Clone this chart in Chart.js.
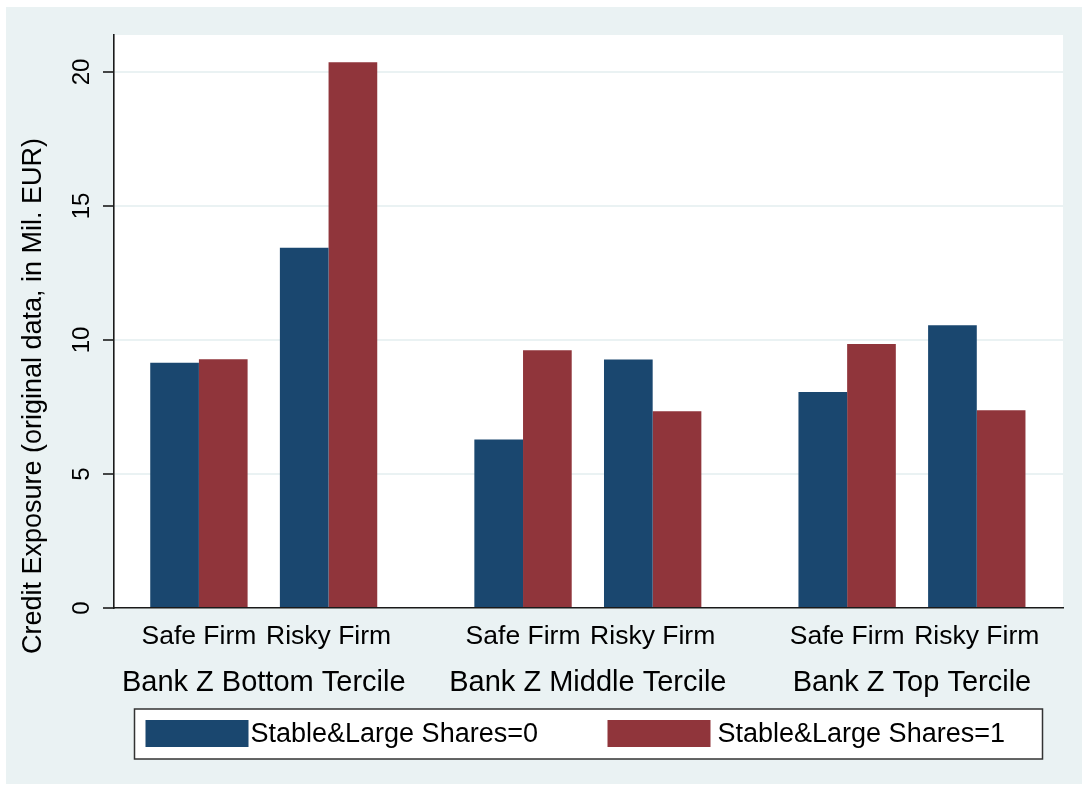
<!DOCTYPE html>
<html>
<head>
<meta charset="utf-8">
<script src="https://cdn.jsdelivr.net/npm/chart.js@4.4.1/dist/chart.umd.min.js"></script>
<style>
  html, body { margin: 0; padding: 0; background: #fff; }
  #wrap { width: 1082px; height: 789px; }
</style>
</head>
<body>
<div id="wrap"><canvas id="grafico" width="1082" height="789"></canvas></div>
<script>
// dados
const grupos = ['Bank Z Bottom Tercile', 'Bank Z Middle Tercile', 'Bank Z Top Tercile'];
const firmas = ['Safe Firm', 'Risky Firm'];
const series = ['Stable&Large Shares=0', 'Stable&Large Shares=1'];
const shares0 = [9.15, 13.44, 6.29, 9.27, 8.06, 10.55];
const shares1 = [9.28, 20.36, 9.62, 7.34, 9.85, 7.38];
const yTicks = [0, 5, 10, 15, 20];
const yTitulo = 'Credit Exposure (original data, in Mil. EUR)';

const FONTE = "'Liberation Sans', Arial, sans-serif";
const COR_FUNDO = '#EAF2F3';
const COR_EIXO = '#1a1a1a';

// posição de cada barra no eixo: firmas separadas por 2, grupos por 5
function posicao(i) {
  const g = Math.floor(i / firmas.length);
  const f = i % firmas.length;
  return g * 5 + f * 2;
}

function pontos(valores) {
  return valores.map((v, i) => ({ x: posicao(i), y: v }));
}

const ticksFirmas = [];
grupos.forEach((g, gi) => firmas.forEach((f, fi) => ticksFirmas.push({ value: gi * 5 + fi * 2, label: f })));
const ticksGrupos = grupos.map((g, gi) => ({ value: gi * 5 + 1, label: g }));

Chart.defaults.font.family = FONTE;
Chart.defaults.color = '#000';

const fundo = {
  id: 'fundo',
  beforeDraw(chart) {
    const { ctx, chartArea: a } = chart;
    ctx.save();
    ctx.fillStyle = '#ffffff';
    ctx.fillRect(0, 0, chart.width, chart.height);
    ctx.fillStyle = COR_FUNDO;
    ctx.fillRect(6, 7, chart.width - 6, chart.height - 12);
    ctx.fillStyle = '#ffffff';
    ctx.fillRect(a.left, a.top, a.right - a.left, a.bottom - a.top);
    ctx.restore();
  }
};

// título do eixo y e legenda no estilo do Stata
const extras = {
  id: 'extras',
  afterDraw(chart) {
    const { ctx, chartArea: a } = chart;
    ctx.save();
    ctx.translate(34, 396);
    ctx.rotate(-Math.PI / 2);
    ctx.font = '27px ' + FONTE;
    ctx.fillStyle = '#000';
    ctx.textAlign = 'center';
    ctx.textBaseline = 'middle';
    ctx.fillText(yTitulo, 0, 0);
    ctx.restore();

    const cx = (a.left + a.right) / 2;
    const w = 908, h = 50, topo = 709;
    const esq = cx - w / 2;
    ctx.save();
    ctx.fillStyle = '#fff';
    ctx.fillRect(esq, topo, w, h);
    ctx.strokeStyle = '#333';
    ctx.lineWidth = 1.5;
    ctx.strokeRect(esq, topo, w, h);
    const offs = [11, 473];
    const gapTexto = [105, 110];
    chart.data.datasets.forEach((ds, i) => {
      const x0 = esq + offs[i];
      ctx.fillStyle = ds.backgroundColor;
      ctx.fillRect(x0, topo + 11, 103, 27);
      ctx.fillStyle = '#000';
      ctx.font = '27px ' + FONTE;
      ctx.textAlign = 'left';
      ctx.textBaseline = 'middle';
      ctx.fillText(ds.label, x0 + gapTexto[i], topo + 26);
    });
    ctx.restore();
  }
};

const ctx = document.getElementById('grafico').getContext('2d');
new Chart(ctx, {
  type: 'bar',
  data: {
    datasets: [
      {
        label: series[0],
        data: pontos(shares0),
        backgroundColor: '#1A476F',
        categoryPercentage: 0.751,
        barPercentage: 1
      },
      {
        label: series[1],
        data: pontos(shares1),
        backgroundColor: '#90353B',
        categoryPercentage: 0.751,
        barPercentage: 1
      }
    ]
  },
  options: {
    responsive: false,
    animation: false,
    layout: { padding: { top: 35, right: 19, left: 0, bottom: 87 } },
    plugins: {
      legend: { display: false },
      tooltip: { enabled: false }
    },
    scales: {
      x: {
        type: 'linear',
        position: 'bottom',
        weight: 0,
        min: -1.31,
        max: 13.33,
        offset: false,
        grid: { display: false, drawTicks: false, tickLength: 0 },
        border: { display: true, color: COR_EIXO, width: 1.6 },
        afterBuildTicks: s => { s.ticks = ticksFirmas.map(t => ({ value: t.value })); },
        afterFit: s => { s.height = 47; },
        ticks: {
          autoSkip: false,
          maxRotation: 0,
          minRotation: 0,
          padding: 13,
          font: { size: 26.5 },
          callback: (v, i) => ticksFirmas[i].label
        }
      },
      x2: {
        type: 'linear',
        position: 'bottom',
        weight: 1,
        min: -1.31,
        max: 13.33,
        offset: false,
        grid: { display: false, drawTicks: false, tickLength: 0 },
        border: { display: false },
        afterBuildTicks: s => { s.ticks = ticksGrupos.map(t => ({ value: t.value })); },
        afterFit: s => { s.height = 47; },
        ticks: {
          autoSkip: false,
          maxRotation: 0,
          minRotation: 0,
          padding: 11,
          font: { size: 29 },
          callback: (v, i) => ticksGrupos[i].label
        }
      },
      y: {
        min: 0,
        max: 21.38,
        afterBuildTicks: s => { s.ticks = yTicks.map(v => ({ value: v })); },
        afterFit: s => { s.width = 114; },
        border: { display: true, color: COR_EIXO, width: 1.6 },
        grid: {
          color: c => (c.tick && c.tick.value === 0) ? 'rgba(0,0,0,0)' : COR_FUNDO,
          lineWidth: 2,
          tickColor: COR_EIXO,
          tickLength: 11,
          tickWidth: 1.6
        },
        ticks: {
          minRotation: 90,
          maxRotation: 90,
          crossAlign: 'center',
          padding: 7,
          font: { size: 24 },
          callback: v => v
        }
      }
    }
  },
  plugins: [fundo, extras]
});
</script>
</body>
</html>
